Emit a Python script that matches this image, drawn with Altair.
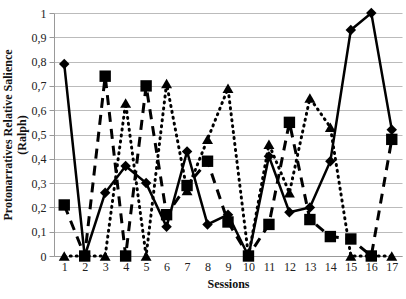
import altair as alt
import pandas as pd

sessions = list(range(1, 18))
diamond_vals = [0.79, 0.0, 0.26, 0.37, 0.30, 0.12, 0.43, 0.13, 0.17, 0.0, 0.41, 0.18, 0.20, 0.39, 0.93, 1.0, 0.52]
square_vals = [0.21, 0.0, 0.74, 0.0, 0.70, 0.17, 0.29, 0.39, 0.14, 0.0, 0.13, 0.55, 0.15, 0.08, 0.07, 0.0, 0.48]
triangle_vals = [0.0, 0.0, 0.0, 0.63, 0.0, 0.71, 0.27, 0.48, 0.69, 0.0, 0.46, 0.26, 0.65, 0.53, 0.0, 0.0, 0.0]

FONT = "Times New Roman, Liberation Serif, serif"

def df(vals):
    return pd.DataFrame({"session": sessions, "value": vals})

x = alt.X("session:Q", scale=alt.Scale(domain=[0.5, 17.5], nice=False, zero=False),
          axis=alt.Axis(values=sessions, title="Sessions", grid=False, ticks=False,
                        labelFont=FONT, labelFontSize=12, labelColor="#222",
                        titleFont=FONT, titleFontSize=12, titleFontWeight="bold",
                        titleColor="#111", domainColor="#999", labelPadding=5, titlePadding=6))
y = alt.Y("value:Q", scale=alt.Scale(domain=[0, 1], nice=False),
          axis=alt.Axis(values=[i / 10 for i in range(11)],
                        labelExpr="datum.value == 0 ? '0' : datum.value == 1 ? '1' : replace(format(datum.value, '.1f'), '.', ',')",
                        title=["Protonarratives Relative Salience", "(Ralph)"],
                        labelFont=FONT, labelFontSize=12, labelColor="#222",
                        titleFont=FONT, titleFontSize=12, titleFontWeight="bold",
                        titleColor="#111", domainColor="#999", tickColor="#999",
                        tickSize=5, gridColor="#bbb", gridWidth=1.2, labelPadding=3,
                        titlePadding=3, titleLineHeight=14))

line_d = alt.Chart(df(diamond_vals)).mark_line(color="black", strokeWidth=2.5).encode(x=x, y=y)
pt_d = alt.Chart(df(diamond_vals)).mark_point(shape="diamond", filled=True, color="black", size=110, opacity=1).encode(x=x, y=y)

line_s = alt.Chart(df(square_vals)).mark_line(color="black", strokeWidth=3, strokeDash=[10, 7]).encode(x=x, y=y)
pt_s = alt.Chart(df(square_vals)).mark_point(shape="square", filled=True, color="black", size=130, opacity=1).encode(x=x, y=y)

line_t = alt.Chart(df(triangle_vals)).mark_line(color="black", strokeWidth=3, strokeDash=[1, 5], strokeCap="round").encode(x=x, y=y)
pt_t = alt.Chart(df(triangle_vals)).mark_point(shape="triangle-up", filled=True, color="black", size=120, opacity=1).encode(x=x, y=y)

chart = alt.layer(line_t, line_s, line_d, pt_t, pt_s, pt_d).properties(
    width=348, height=243,
    autosize=alt.AutoSizeParams(type="none"),
    padding={"left": 54, "top": 13, "right": 4, "bottom": 43},
    background="white",
).configure_view(stroke=None)

chart.save("out.html", embed_options={"renderer": "svg", "actions": False})
